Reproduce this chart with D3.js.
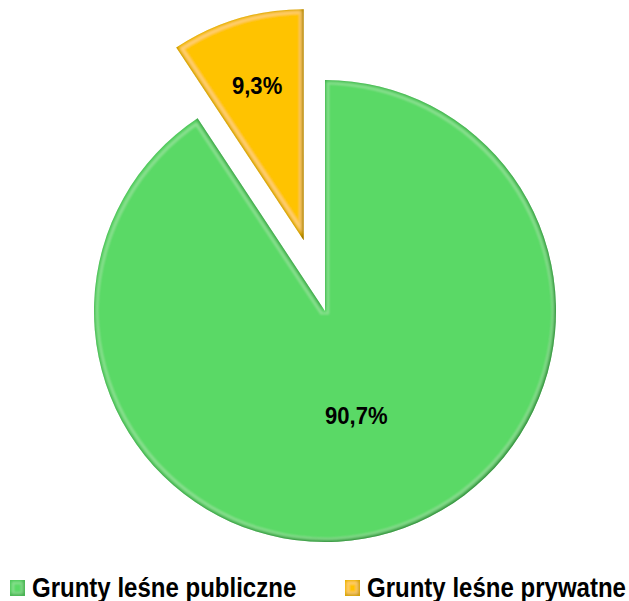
<!DOCTYPE html>
<html>
<head>
<meta charset="utf-8">
<script src="https://cdn.jsdelivr.net/npm/d3@7"></script>
<style>
  body { margin: 0; background: #fff; }
  svg text { font-family: "Liberation Sans Narrow", "Arial Narrow", "Liberation Sans", sans-serif; font-weight: bold; }
</style>
</head>
<body>
<svg id="chart" width="629" height="601"></svg>
<script>
// chart data
const categories = ["Grunty leśne publiczne", "Grunty leśne prywatne"];
const values = [90.7, 9.3];
const valueLabels = ["90,7%", "9,3%"];
const colors = ["#5ad966", "#ffc300"];

function drawChart() {
    const svg = d3.select("#chart");
    const cx = 325, cy = 311, radius = 231;

    // bevel-like inner shading: light band inset, dark rim at the edge
    const defs = svg.append("defs");
    const f = defs.append("filter").attr("id", "bevel")
        .attr("x", "-10%").attr("y", "-10%").attr("width", "120%").attr("height", "120%");
    // dark rim, heavier on the lower right
    f.append("feFlood").attr("flood-color", "#000").attr("result", "black");
    f.append("feComposite").attr("in", "black").attr("in2", "SourceAlpha").attr("operator", "out").attr("result", "outside");
    f.append("feOffset").attr("in", "outside").attr("dx", -1.2).attr("dy", -1.2).attr("result", "outOff");
    f.append("feGaussianBlur").attr("in", "outOff").attr("stdDeviation", 2).attr("result", "outBlur");
    f.append("feComposite").attr("in", "outBlur").attr("in2", "SourceAlpha").attr("operator", "in").attr("result", "darkEdge");
    f.append("feComponentTransfer").attr("in", "darkEdge").attr("result", "darkEdge2")
        .append("feFuncA").attr("type", "linear").attr("slope", 0.85);
    // light band a few pixels inside the edge
    f.append("feMorphology").attr("in", "SourceAlpha").attr("operator", "erode").attr("radius", 2).attr("result", "er1");
    f.append("feMorphology").attr("in", "SourceAlpha").attr("operator", "erode").attr("radius", 4).attr("result", "er2");
    f.append("feComposite").attr("in", "er1").attr("in2", "er2").attr("operator", "out").attr("result", "band");
    f.append("feGaussianBlur").attr("in", "band").attr("stdDeviation", 1).attr("result", "bandBlur");
    f.append("feFlood").attr("flood-color", "#fff").attr("flood-opacity", 0.18).attr("result", "white");
    f.append("feComposite").attr("in", "white").attr("in2", "bandBlur").attr("operator", "in").attr("result", "lightEdge");
    const merge = f.append("feMerge");
    merge.append("feMergeNode").attr("in", "SourceGraphic");
    merge.append("feMergeNode").attr("in", "lightEdge");
    merge.append("feMergeNode").attr("in", "darkEdge2");

    const pie = d3.pie().sort(null).value(d => d);
    const arcs = pie(values);
    const arc = d3.arc().innerRadius(0).outerRadius(radius);

    // explode offsets and label radii per slice
    const explode = [0, 74];
    const labelR = [0.47, 0.70];

    const g = svg.append("g").attr("transform", `translate(${cx},${cy})`);

    const slices = g.selectAll(".slice")
        .data(arcs)
        .enter().append("g")
        .attr("transform", (d, i) => {
            const mid = (d.startAngle + d.endAngle) / 2;
            return `translate(${Math.sin(mid) * explode[i]},${-Math.cos(mid) * explode[i]})`;
        });

    slices.append("path")
        .attr("d", arc)
        .attr("fill", (d, i) => colors[i])
        .attr("filter", "url(#bevel)");

    slices.append("text")
        .attr("transform", (d, i) => {
            const mid = (d.startAngle + d.endAngle) / 2;
            return `translate(${Math.sin(mid) * radius * labelR[i]},${-Math.cos(mid) * radius * labelR[i]}) scale(0.92,1)`;
        })
        .attr("text-anchor", "middle")
        .attr("dy", "0.36em")
        .attr("font-size", 24)
        .attr("fill", "#000")
        .text((d, i) => valueLabels[i]);

    // Legend
    const legendX = [10, 345];
    const legend = svg.selectAll(".legend")
        .data(categories)
        .enter().append("g")
        .attr("transform", (d, i) => `translate(${legendX[i]},580)`);

    legend.append("rect")
        .attr("width", 15)
        .attr("height", 16)
        .attr("fill", (d, i) => colors[i])
        .attr("filter", "url(#bevel)");

    legend.append("text")
        .attr("transform", "translate(22,17) scale(0.89,1)")
        .attr("font-size", 27)
        .attr("fill", "#000")
        .text(d => d);
}

window.onload = drawChart;
</script>
</body>
</html>
